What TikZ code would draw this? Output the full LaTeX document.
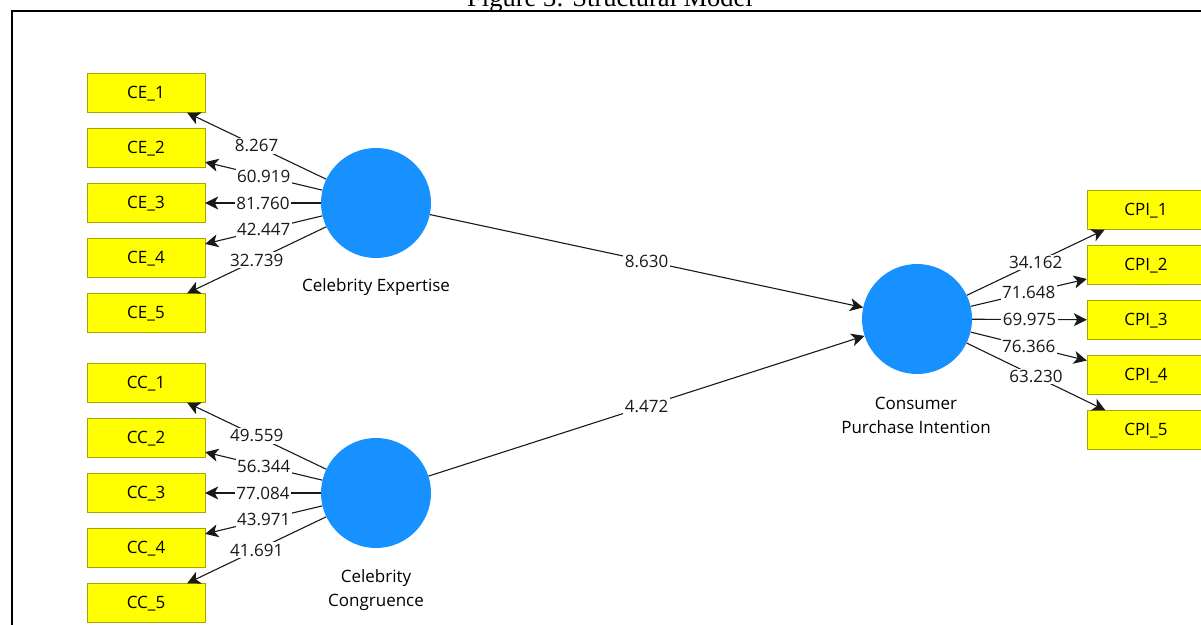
\documentclass[tikz,border=0pt]{standalone}
\usepackage{fontspec}
\setmainfont{Open Sans}
\newfontfamily\captionface{Liberation Serif}
\usetikzlibrary{arrows.meta}
\definecolor{lvblue}{RGB}{22,145,255}
\definecolor{mvyellow}{RGB}{255,255,0}
\definecolor{mvedge}{RGB}{165,165,0}
\definecolor{pathgray}{RGB}{25,25,25}

\begin{document}
\begin{tikzpicture}[x = 1pt, y = -1pt, font = \fontsize{17}{24}\selectfont,
	> = {Stealth[length = 13pt, width = 13pt, inset = 3.5pt]},
	latent/.style = {circle, fill = lvblue, minimum size = 110pt, inner sep = 0pt},
	indicator/.style = {draw = mvedge, fill = mvyellow, minimum width = 118pt, minimum height = 39pt, inner sep = 0pt, text depth = 1pt},
	loading/.style = {midway, fill = white, inner sep = 1.5pt, text = black!90}]
	\useasboundingbox (0, 0) rectangle (1201, 624);
	\draw [black, line width = 1.3pt] (12, 640) |- (1220, 11);
	\node (caption) at (610, 6) [anchor = base] {\captionface\fontsize{26.5}{30}\selectfont Figure 3: Structural Model};
	\node [latent] (ce) at (376, 203) {};
	\node [latent] (cc) at (376, 493) {};
	\node [latent] (cpi) at (917, 319) {};
	\node (celabel) at (376, 287) {Celebrity Expertise};
	\node (cclabel) at (376, 590) [align = center] {Celebrity\\Congruence};
	\node (cpilabel) at (916, 415) [align = center] {Consumer\\Purchase Intention};
	\foreach \i/\lce/\lcc/\lcpi in {1/8.267/49.559/34.162, 2/60.919/56.344/71.648, 3/81.760/77.084/69.975, 4/42.447/43.971/76.366, 5/32.739/41.691/63.230} {
		\node [indicator] (ce\i) at (146, 38 + 55*\i) {CE\_\i};
		\node [indicator] (cc\i) at (146, 328 + 55*\i) {CC\_\i};
		\node [indicator] (cpi\i) at (1146, 155 + 55*\i) {CPI\_\i};
		\draw [pathgray, line width = 1.1pt, ->] (ce) -- (ce\i) node [loading] {\lce};
		\draw [pathgray, line width = 1.1pt, ->] (cc) -- (cc\i) node [loading] {\lcc};
		\draw [pathgray, line width = 1.1pt, ->] (cpi) -- (cpi\i) node [loading] {\lcpi};
	}
	\draw [pathgray, line width = 1.1pt, ->] (ce) -- (cpi) node [loading] {8.630};
	\draw [pathgray, line width = 1.1pt, ->] (cc) -- (cpi) node [loading] {4.472};
\end{tikzpicture}
\end{document}
